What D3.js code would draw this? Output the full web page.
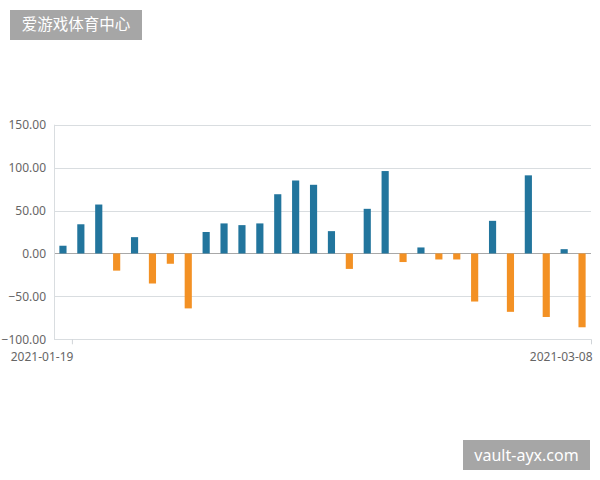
<!DOCTYPE html>
<html><head><meta charset="utf-8">
<script src="https://cdn.jsdelivr.net/npm/d3@7"></script>
<style>body{margin:0;background:#fff}svg{display:block}</style>
</head><body>
<svg id="c" width="600" height="480"></svg>
<script>
const dates = ["2021-01-19","2021-01-20","2021-01-21","2021-01-22","2021-01-25","2021-01-26","2021-01-27","2021-01-28","2021-01-29",
"2021-02-01","2021-02-02","2021-02-03","2021-02-04","2021-02-05","2021-02-08","2021-02-09","2021-02-10",
"2021-02-18","2021-02-19","2021-02-22","2021-02-23","2021-02-24","2021-02-25","2021-02-26",
"2021-03-01","2021-03-02","2021-03-03","2021-03-04","2021-03-05","2021-03-08"];
const values = [9,34,57,-20,19,-35,-12,-64,25,35,33,35,69,85,80,26,-18,52,96,-10,7,-7,-7,-56,38,-68,91,-74,5,-86];
const yTicks = [-100,-50,0,50,100,150];
const xLabels = ["2021-01-19","2021-03-08"];
const title = "爱游戏体育中心";
const watermark = "vault-ayx.com";

const svg = d3.select("#c");
const font = "'Noto Sans', 'Liberation Sans', sans-serif";
const L = 54, R = 591, T = 124.7, B = 339.3;
const x = d3.scaleBand().domain(dates).range([L, R]).padding(0);
const y = d3.scaleLinear().domain([-100, 150]).range([B, T]);

// grid
svg.append("g").selectAll("line").data(yTicks).join("line")
  .attr("x1", L).attr("x2", R)
  .attr("y1", d => Math.round(y(d)) + 0.5).attr("y2", d => Math.round(y(d)) + 0.5)
  .attr("stroke", d => d === 0 ? "#a8a8a8" : "#d9dde0").attr("stroke-width", 1);
// left axis line
svg.append("line").attr("x1", L + 0.5).attr("x2", L + 0.5).attr("y1", T).attr("y2", B)
  .attr("stroke", "#d9dde0");

// y labels
svg.append("g").selectAll("text").data(yTicks).join("text")
  .attr("x", 46).attr("y", d => y(d)).attr("dy", "0.35em")
  .attr("text-anchor", "end").attr("font-family", font).attr("font-size", 12)
  .attr("fill", "#666").text(d => d3.format(".2f")(d));

// bars
const bw = x.bandwidth() * 0.4;
svg.append("g").selectAll("rect").data(values).join("rect")
  .attr("x", (d, i) => x(dates[i]) + x.bandwidth() / 2 - bw / 2)
  .attr("width", bw)
  .attr("y", d => y(Math.max(0, d)))
  .attr("height", d => Math.abs(y(d) - y(0)))
  .attr("fill", d => d >= 0 ? "#22759d" : "#f39124");

// x ticks and labels
const xt = svg.append("g").selectAll("g").data(xLabels).join("g")
  .attr("transform", d => `translate(${x(d) + x.bandwidth()},0)`);
xt.append("line").attr("x1", 0.5).attr("x2", 0.5).attr("y1", B).attr("y2", B + 5).attr("stroke", "#d0d4d8");
xt.append("text").attr("x", 1.5).attr("y", B + 21.5).attr("text-anchor", "end")
  .attr("font-family", font).attr("font-size", 12).attr("fill", "#666").text(d => d);

// title box
svg.append("rect").attr("x", 10).attr("y", 10).attr("width", 132).attr("height", 30).attr("fill", "#a6a6a6");
svg.append("text").attr("x", 76).attr("y", 25).attr("dy", "0.35em").attr("text-anchor", "middle")
  .attr("font-family", "'Noto Sans CJK SC', sans-serif").attr("font-size", 15.5).attr("fill", "#fff").text(title);

// watermark box
svg.append("rect").attr("x", 463).attr("y", 440).attr("width", 127).attr("height", 30).attr("fill", "#a6a6a6");
svg.append("text").attr("x", 526.5).attr("y", 455).attr("dy", "0.35em").attr("text-anchor", "middle")
  .attr("font-family", font).attr("font-size", 16).attr("fill", "#fff").text(watermark);
</script>
</body></html>
